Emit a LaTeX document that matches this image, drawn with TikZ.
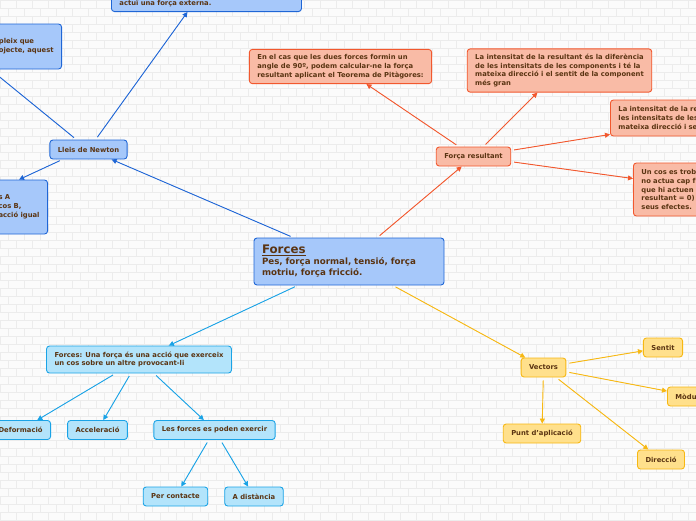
\documentclass[tikz,border=0pt]{standalone}
\usepackage{fontspec}
\setmainfont{DejaVu Sans}
\usepackage{xcolor}
\usepackage{tikz}
\usetikzlibrary{arrows.meta, positioning}
\definecolor{txtbrown}{HTML}{5A3412}
\definecolor{bluefill}{HTML}{A6C8FA}
\definecolor{blueline}{HTML}{1F66D6}
\definecolor{orangefill}{HTML}{F9BBA6}
\definecolor{orangeline}{HTML}{F2582E}
\definecolor{cyanfill}{HTML}{B3E4FB}
\definecolor{cyanline}{HTML}{1AA3E6}
\definecolor{yellowfill}{HTML}{FFE08C}
\definecolor{yellowline}{HTML}{F7B813}
\definecolor{bgwall}{HTML}{FBFBFB}
\definecolor{brickline}{HTML}{ECECEC}
\tikzstyle{box} = [rectangle, rounded corners=3pt, line width=0.9pt, text=txtbrown, font=\fontsize{6.8}{8.8}\selectfont\bfseries, align=left, inner xsep=8pt, inner ysep=5pt, minimum height=19pt]
\tikzstyle{bluebox} = [box, draw=blueline, fill=bluefill]
\tikzstyle{orangebox} = [box, draw=orangeline, fill=orangefill]
\tikzstyle{cyanbox} = [box, draw=cyanline, fill=cyanfill]
\tikzstyle{yellowbox} = [box, draw=yellowline, fill=yellowfill]
\tikzstyle{arrow} = [line width=0.9pt, -{Triangle[length=5pt,width=5pt]}, shorten <=3pt]
\tikzstyle{bluearrow} = [arrow, draw=blueline, fill=blueline]
\tikzstyle{orangearrow} = [arrow, draw=orangeline, fill=orangeline]
\tikzstyle{cyanarrow} = [arrow, draw=cyanline, fill=cyanline]
\tikzstyle{yellowarrow} = [arrow, draw=yellowline, fill=yellowline]
\tikzstyle{brick} = [draw=brickline, line width=0.5pt]
\begin{document}
\begin{tikzpicture}[x=1pt, y=-1pt]

\useasboundingbox (0,0) rectangle (696,520);
\clip (0,0) rectangle (696,520);
\fill[bgwall] (0,0) rectangle (696,520);
% brick wall
\foreach \r in {0,...,65} {
  \draw[brick] (0,8*\r) -- (696,8*\r);
  \pgfmathsetmacro\off{mod(\r,2)*8}
  \foreach \c in {0,...,43} \draw[brick] (16*\c+\off,8*\r) -- (16*\c+\off,8*\r+8);
}

% centre
\node (forces) [bluebox, text width=174pt, minimum height=47pt, font=\fontsize{8.7}{11}\selectfont\bfseries] at (349,261.5) {{\fontsize{11.8}{13}\selectfont\underline{Forces}}\\Pes, força normal, tensió, força\\motriu, força fricció.};

% Newton
\node (newton) [bluebox] at (88.5,149.5) {Lleis de Newton};
\node (first) [bluebox, anchor=south west, text width=174pt] at (111,12) {\phantom{X}\\\phantom{X}\\actuï una força externa.};
\node (third) [bluebox, anchor=east, minimum height=45pt] at (62,46.5) {pleix que\\ojecte, aquest};
\node (second) [bluebox, anchor=east, minimum height=54pt] at (48,207) {s A\\cos B,\\acció igual};

% resultant
\node (result) [orangebox] at (473.5,156.5) {Força resultant};
\node (pitagoras) [orangebox] at (340.5,66.5) {En el cas que les dues forces formin un\\angle de 90º, podem calcular-ne la força\\resultant aplicant el Teorema de Pitàgores:};
\node (diff) [orangebox] at (559.5,70.5) {La intensitat de la resultant és la diferència\\de les intensitats de les components i té la\\mateixa direcció i el sentit de la component\\més gran};
\node (sum) [orangebox, anchor=west, text width=100pt, minimum height=36pt] at (610,118) {La intensitat de la re\\les intensitats de les\\mateixa direcció i se};
\node (rest) [orangebox, anchor=west, text width=80pt, minimum height=53pt] at (633,189.5) {Un cos es trob\\no actua cap f\\que hi actuen\\resultant = 0)\\seus efectes.};

% vectors
\node (vectors) [yellowbox] at (543.5,367.5) {Vectors};
\node (sentit) [yellowbox] at (663,347.5) {Sentit};
\node (modul) [yellowbox, anchor=west, text width=40pt] at (667,396.5) {Mòdul};
\node (punt) [yellowbox] at (542,433.5) {Punt d’aplicació};
\node (direccio) [yellowbox] at (661,459.5) {Direcció};

% accio
\node (accio) [cyanbox, minimum height=27pt] at (139,359.5) {Forces: Una força és una acció que exerceix\\un cos sobre un altre provocant-li};
\node (deform) [cyanbox, anchor=east] at (51,430) {Deformació};
\node (accel) [cyanbox] at (97.5,430) {Acceleració};
\node (exercir) [cyanbox] at (214.5,430) {Les forces es poden exercir};
\node (contacte) [cyanbox] at (175.5,496.5) {Per contacte};
\node (distancia) [cyanbox] at (254,496.5) {A distància};

\draw [bluearrow] (forces) -- (newton);
\draw [bluearrow] (newton) -- ([xshift=-19pt]first.south);
\draw [bluearrow] (newton) -- (third.south west);
\draw [bluearrow] ([xshift=-26pt]newton.south) -- (second.north);

\draw [orangearrow] (forces) -- (result);
\draw [orangearrow] (result) -- (pitagoras);
\draw [orangearrow] (result) -- (diff);
\draw [orangearrow] (result) -- ([yshift=2pt]sum.south west);
\draw [orangearrow] (result) -- ([yshift=-16pt]rest.north west);

\draw [yellowarrow] (forces) -- (vectors);
\draw [yellowarrow] (vectors) -- (sentit);
\draw [yellowarrow] (vectors) -- (modul);
\draw [yellowarrow] (vectors) -- (punt);
\draw [yellowarrow] (vectors) -- (direccio);

\draw [cyanarrow] (forces) -- (accio);
\draw [cyanarrow] (accio) -- (deform);
\draw [cyanarrow] (accio) -- (accel);
\draw [cyanarrow] (accio) -- (exercir);
\draw [cyanarrow] (exercir) -- (contacte);
\draw [cyanarrow] (exercir) -- (distancia);

\end{tikzpicture}
\end{document}
